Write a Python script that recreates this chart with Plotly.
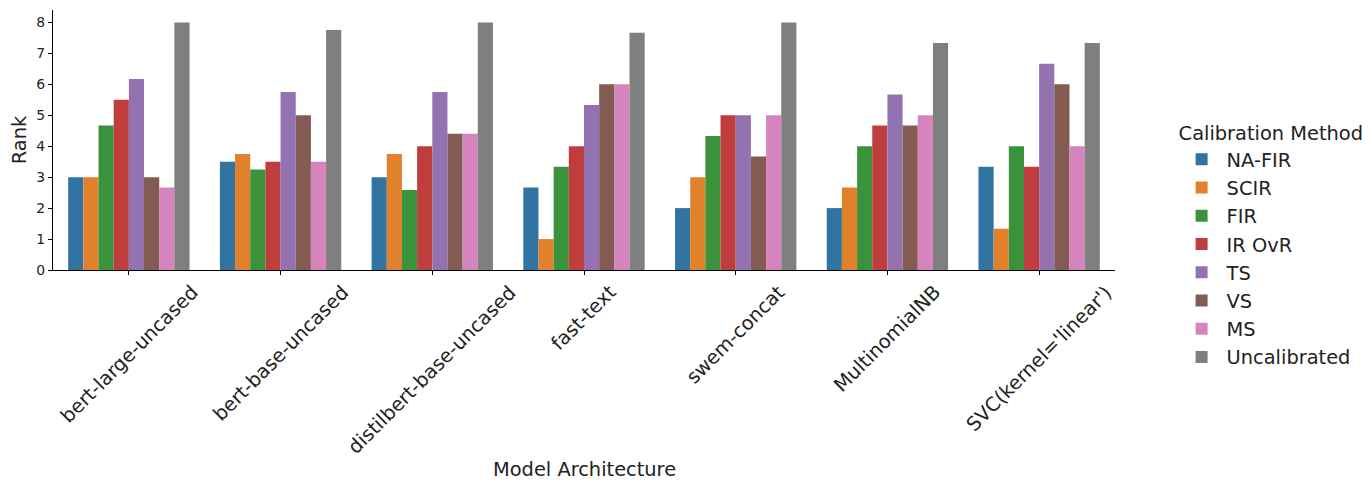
import plotly.graph_objects as go

models = ["bert-large-uncased", "bert-base-uncased", "distilbert-base-uncased", "fast-text",
          "swem-concat", "MultinomialNB", "SVC(kernel='linear')"]
methods = ["NA-FIR", "SCIR", "FIR", "IR OvR", "TS", "VS", "MS", "Uncalibrated"]

na_fir = [3.0, 3.5, 3.0, 2.667, 2.0, 2.0, 3.333]
scir = [3.0, 3.75, 3.75, 1.0, 3.0, 2.667, 1.333]
fir = [4.667, 3.25, 2.583, 3.333, 4.333, 4.0, 4.0]
ir_ovr = [5.5, 3.5, 4.0, 4.0, 5.0, 4.667, 3.333]
ts = [6.167, 5.75, 5.75, 5.333, 5.0, 5.667, 6.667]
vs = [3.0, 5.0, 4.4, 6.0, 3.667, 4.667, 6.0]
ms = [2.667, 3.5, 4.4, 6.0, 5.0, 5.0, 4.0]
uncal = [8.0, 7.75, 8.0, 7.667, 8.0, 7.333, 7.333]

series = [na_fir, scir, fir, ir_ovr, ts, vs, ms, uncal]
colors = ["#3274a1", "#e1812c", "#3a923a", "#c03d3e", "#9372b2", "#845b53", "#d684bd", "#7f7f7f"]

FONT = "DejaVu Sans"
BIG = 19.4
fig = go.Figure()
for name, vals, c in zip(methods, series, colors):
    fig.add_trace(go.Bar(x=models, y=vals, name=name, marker=dict(color=c, line=dict(width=0))))

annotations = []
for m in models:
    annotations.append(dict(x=m, y=0, xref="x", yref="y", yshift=-8, text=m, textangle=-45,
                            showarrow=False, xanchor="center", yanchor="top",
                            font=dict(family=FONT, size=BIG, color="#222")))
annotations.append(dict(x=0.5, y=-199 / 260, xref="paper", yref="paper", text="Model Architecture",
                        showarrow=False, xanchor="center", yanchor="middle",
                        font=dict(family=FONT, size=BIG, color="#222")))

fig.update_layout(
    width=1372, height=490,
    margin=dict(l=45, r=265, t=2, b=228, autoexpand=False),
    plot_bgcolor="white", paper_bgcolor="white",
    barmode="group", bargap=0.2, bargroupgap=0,
    font=dict(family=FONT, color="#222"),
    annotations=annotations,
    legend=dict(title=dict(text="Calibration Method", font=dict(family=FONT, size=BIG)),
                font=dict(family=FONT, size=BIG), x=1.058, xref="paper", y=0.596, yref="paper",
                xanchor="left", yanchor="top", tracegroupgap=0, itemwidth=40),
    xaxis=dict(type="category", range=[-0.5, 6.5], showticklabels=False, ticks="outside",
               ticklen=4, tickcolor="black", showline=True, linecolor="black", linewidth=1.2,
               showgrid=False, zeroline=False),
    yaxis=dict(range=[0, 8.4], tickvals=list(range(9)), ticks="outside", ticklen=4,
               tickcolor="black", showline=True, linecolor="black", linewidth=1.2,
               showgrid=False, zeroline=False, tickfont=dict(size=13.9), automargin=False,
               title=dict(text="Rank", font=dict(size=BIG), standoff=6)),
)
fig.write_html("out.html")
